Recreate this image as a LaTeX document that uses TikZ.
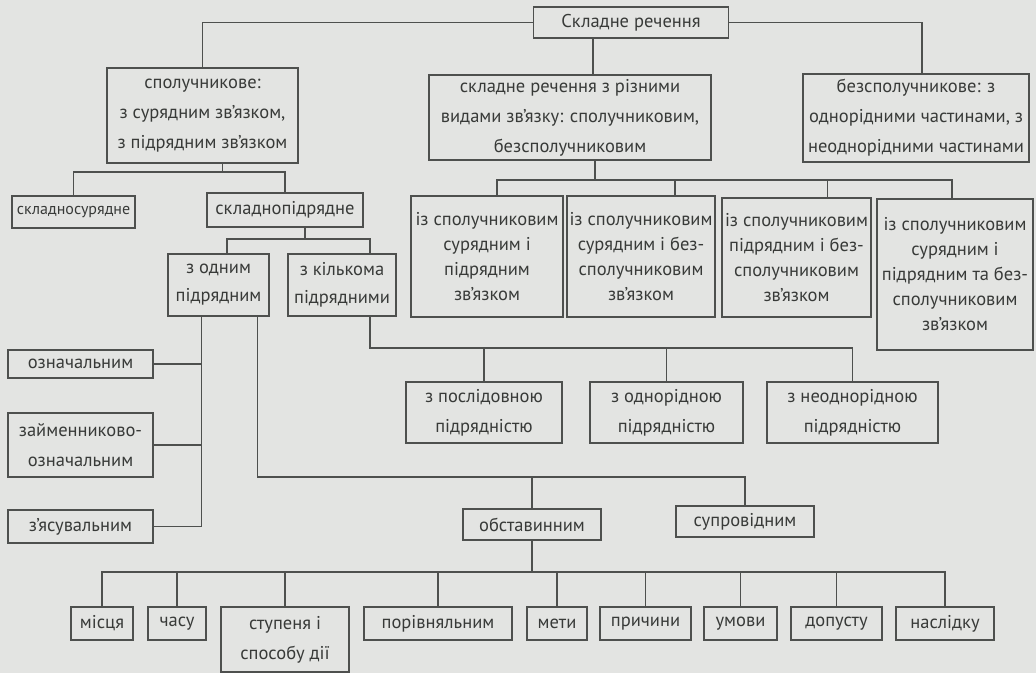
\documentclass[tikz,border=0pt]{standalone}
\usepackage{fontspec}
\setmainfont{PT Sans}
\begin{document}
\begin{tikzpicture}[x=1pt,y=-1pt,
  box/.style={draw=ln,line width=1.2pt,inner sep=1pt,align=center,text=tx,font=\fontsize{18.5}{30}\selectfont},
  boxq/.style={box,font=\fontsize{18.5}{25}\selectfont},
  link/.style={draw=ln,line width=1.2pt}]
  \definecolor{bg}{HTML}{E3E4E2}
  \definecolor{ln}{HTML}{4E504E}
  \definecolor{tx}{HTML}{383A38}
  \useasboundingbox (0,0) rectangle (1036,673);
  \fill[bg] (0,0) rectangle (1036,673);
  % top level
  \node[box,minimum width=195pt,minimum height=31pt] (root) at (631,22.5) {Складне речення};
  \node[box,minimum width=191pt,minimum height=95pt] (spoluch) at (202.5,115.5) {сполучникове:\\з сурядним зв’язком,\\з підрядним зв’язком};
  \node[box,minimum width=282pt,minimum height=85pt] (riznymy) at (570,117.5) {складне речення з різними\\видами зв’язку: сполучниковим,\\безсполучниковим};
  \node[box,minimum width=226pt,minimum height=88pt] (bezspol) at (916,118) {безсполучникове: з\\однорідними частинами, з\\неоднорідними частинами};
  \draw[link] (root.west) -| (spoluch.north);
  \draw[link] (root.east) -| ([xshift=6pt]bezspol.north);
  \draw[link] ([xshift=-38pt]root.south) -- ([xshift=-38pt]root.south |- riznymy.north);
  % compound-coordinate / complex-subordinate
  \node[box,font=\fontsize{16}{20}\selectfont,minimum width=123pt,minimum height=32pt] (skladnosur) at (73.5,212) {складносурядне};
  \node[box,minimum width=156pt,minimum height=34pt] (skladnopid) at (285,210) {складнопідрядне};
  \coordinate (yA) at (0,172);
  \draw[link] ([xshift=20pt]spoluch.south) -- ([xshift=20pt]spoluch.south |- yA);
  \draw[link] (skladnosur.north) |- (skladnopid.north |- yA) -- (skladnopid.north);
  % one / several subordinate clauses
  \node[box,font=\fontsize{18.5}{28}\selectfont,minimum width=101pt,minimum height=62pt] (odyn) at (218.5,285) {з одним\\підрядним};
  \node[box,font=\fontsize{18.5}{28}\selectfont,minimum width=108pt,minimum height=62pt] (kilkoma) at (342,285) {з кількома\\підрядними};
  \coordinate (yB) at (0,239);
  \draw[link] ([xshift=20pt]skladnopid.south) -- ([xshift=20pt]skladnopid.south |- yB);
  \draw[link] ([xshift=8.5pt]odyn.north) |- ([xshift=28pt]kilkoma.north |- yB) -- ([xshift=28pt]kilkoma.north);
  % mixed links
  \node[boxq,minimum width=152pt,minimum height=121pt] (b1) at (487,256.5) {із сполучниковим\\сурядним і\\підрядним\\зв’язком};
  \node[boxq,minimum width=148pt,minimum height=121pt] (b2) at (641,256.5) {із сполучниковим\\сурядним і без-\\сполучниковим\\зв’язком};
  \node[boxq,minimum width=149pt,minimum height=119pt] (b3) at (796.5,257.5) {із сполучниковим\\підрядним і без-\\сполучниковим\\зв’язком};
  \node[boxq,minimum width=156pt,minimum height=151pt] (b4) at (955,274.5) {із сполучниковим\\сурядним і\\підрядним та без-\\сполучниковим\\зв’язком};
  \coordinate (yE) at (0,180);
  \draw[link] ([xshift=25pt]riznymy.south) -- ([xshift=25pt]riznymy.south |- yE);
  \draw[link] ([xshift=10pt]b1.north) |- ([xshift=-3pt]b4.north |- yE) -- ([xshift=-3pt]b4.north);
  \draw[link] ([xshift=34pt]b2.north) -- ([xshift=34pt]b2.north |- yE);
  \draw[link] ([xshift=31pt]b3.north) -- ([xshift=31pt]b3.north |- yE);
  % several subordinate clauses
  \node[box,minimum width=156pt,minimum height=61pt] (posl) at (484,412.5) {з послідовною\\підрядністю};
  \node[box,minimum width=153pt,minimum height=61pt] (odnor) at (666.5,412.5) {з однорідною\\підрядністю};
  \node[box,minimum width=171pt,minimum height=61pt] (neodn) at (852.5,412.5) {з неоднорідною\\підрядністю};
  \coordinate (yD) at (0,348);
  \draw[link] ([xshift=28pt]kilkoma.south) |- (neodn.north |- yD) -- (neodn.north);
  \draw[link] (posl.north) -- (posl.north |- yD);
  \draw[link] (odnor.north) -- (odnor.north |- yD);
  % one subordinate clause
  \node[box,minimum width=145pt,minimum height=28pt] (oznach) at (80.5,364) {означальним};
  \node[box,minimum width=145pt,minimum height=64pt] (zaimen) at (80.5,445) {займенниково-\\означальним};
  \node[box,minimum width=145pt,minimum height=33pt] (zyasuv) at (80.5,526.5) {з’ясувальним};
  \draw[link] ([xshift=-17pt]odyn.south) |- (zyasuv.east);
  \draw[link] (oznach.east) -- ([xshift=-17pt]odyn.south |- oznach.east);
  \draw[link] (zaimen.east) -- ([xshift=-17pt]odyn.south |- zaimen.east);
  \node[box,minimum width=138pt,minimum height=31pt] (obstav) at (532,524.5) {обставинним};
  \node[box,minimum width=138pt,minimum height=31pt] (suprov) at (745,521.5) {супровідним};
  \coordinate (yC) at (0,477);
  \draw[link] ([xshift=39pt]odyn.south) -- ([xshift=39pt]odyn.south |- yC) -| (suprov.north);
  \draw[link] (obstav.north) -- (obstav.north |- yC);
  % adverbial kinds
  \node[box,minimum width=128pt,minimum height=65pt] (stupen) at (285,639.5) {ступеня і\\способу дії};
  \foreach \n/\x/\w/\t in {mistsia/102/62/місця, chasu/177/58/часу, porivn/438/148/порівняльним,
      mety/557/60/мети, prychyny/645.5/91/причини, umovy/740.5/73/умови,
      dopustu/836.5/91/допусту, naslidku/945/98/наслідку} {
    \node[box,minimum width=\w pt,minimum height=33pt] (\n) at (\x,623.5) {\t};
  }
  \coordinate (yF) at (0,572);
  \draw[link] (obstav.south) -- (obstav.south |- yF);
  \draw[link] (mistsia.north) |- (naslidku.north |- yF) -- (naslidku.north);
  \foreach \n in {chasu,stupen,porivn,mety,prychyny,umovy,dopustu}
    \draw[link] (\n.north) -- (\n.north |- yF);
\end{tikzpicture}
\end{document}
